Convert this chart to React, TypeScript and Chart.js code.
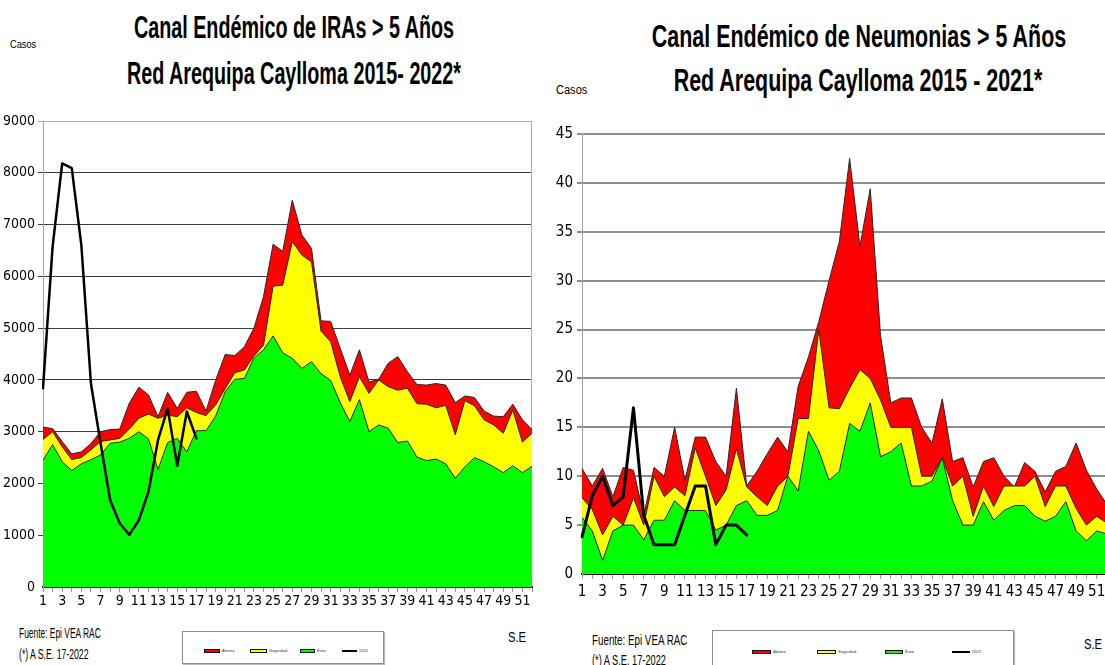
import React, { useEffect, useRef } from 'react';
import { Chart, registerables } from 'chart.js';

Chart.register(...registerables);

// ---------- data ----------
const weeks = ['1','2','3','4','5','6','7','8','9','10','11','12','13','14','15','16','17','18','19','20','21','22','23','24','25','26','27','28','29','30','31','32','33','34','35','36','37','38','39','40','41','42','43','44','45','46','47','48','49','50','51','52'];

const seriesNames = ['Alarma', 'Seguridad', 'Éxito', '2022'];

const irasAlarma = [3086, 3060, 2810, 2570, 2610, 2770, 3000, 3040, 3050, 3550, 3860, 3710, 3290, 3760, 3450, 3760, 3780, 3400, 3990, 4490, 4470, 4640, 5000, 5610, 6620, 6480, 7470, 6800, 6540, 5140, 5130, 4610, 4090, 4580, 3960, 4010, 4320, 4450, 4160, 3910, 3900, 3930, 3900, 3560, 3690, 3660, 3400, 3300, 3290, 3530, 3230, 3040];
const irasSeguridad = [2850, 3000, 2710, 2460, 2500, 2650, 2810, 2840, 2870, 3050, 3260, 3340, 3260, 3320, 3290, 3460, 3370, 3310, 3515, 3830, 4140, 4190, 4460, 4670, 5810, 5830, 6670, 6410, 6280, 4940, 4740, 4060, 3580, 4060, 3740, 4000, 3870, 3800, 3840, 3540, 3530, 3460, 3510, 2940, 3600, 3500, 3230, 3130, 2970, 3420, 2800, 2970];
const irasExito = [2450, 2750, 2420, 2250, 2380, 2460, 2550, 2775, 2800, 2870, 3000, 2860, 2270, 2790, 2870, 2610, 3020, 3020, 3300, 3770, 4010, 4030, 4420, 4580, 4850, 4525, 4416, 4223, 4351, 4120, 3990, 3560, 3196, 3620, 3000, 3130, 3067, 2790, 2820, 2508, 2443, 2470, 2380, 2100, 2320, 2500, 2420, 2320, 2210, 2340, 2210, 2330];
const iras2022 = [3840, 6570, 8180, 8090, 6600, 3930, 2780, 1680, 1230, 1010, 1290, 1840, 2840, 3450, 2340, 3390, 2870];

const neuAlarma = [10.8, 9.0, 10.8, 7.9, 10.9, 10.6, 6.0, 10.9, 10.0, 15.0, 9.6, 14.0, 14.0, 11.5, 10.0, 19.0, 9.0, 10.5, 12.3, 14.0, 12.5, 19.2, 22.2, 25.8, 30.0, 34.0, 42.5, 33.5, 39.4, 24.4, 17.5, 18.0, 18.0, 15.0, 13.4, 17.9, 11.5, 11.9, 8.9, 11.5, 11.9, 10.0, 8.9, 11.4, 10.5, 8.4, 10.5, 11.0, 13.4, 10.6, 8.7, 7.1];
const neuSeguridad = [7.8, 6.6, 4.0, 5.9, 5.0, 7.8, 5.0, 10.0, 7.9, 8.9, 8.0, 12.9, 10.0, 7.0, 8.6, 12.8, 8.9, 7.9, 7.0, 9.0, 10.0, 15.9, 15.9, 25.0, 17.0, 16.9, 19.0, 20.9, 20.0, 17.8, 15.0, 15.0, 15.0, 10.0, 10.0, 11.9, 9.0, 10.0, 5.9, 9.0, 6.9, 9.0, 9.0, 9.0, 10.0, 6.9, 9.0, 9.0, 6.7, 5.0, 5.9, 5.2];
const neuExito = [5.8, 4.4, 1.4, 4.4, 5.0, 5.0, 3.5, 5.5, 5.5, 7.5, 6.5, 6.5, 6.5, 4.5, 5.0, 7.0, 7.5, 6.0, 6.0, 6.5, 10.0, 8.5, 14.6, 12.6, 9.6, 10.5, 15.4, 14.6, 17.5, 12.0, 12.5, 13.4, 9.0, 9.0, 9.5, 11.9, 7.5, 5.0, 5.0, 7.4, 5.5, 6.5, 7.0, 7.0, 5.9, 5.4, 5.9, 7.4, 4.4, 3.4, 4.4, 4.1];
const neu2022 = [3.8, 8.0, 10.0, 7.0, 7.9, 17.0, 6.0, 3.0, 3.0, 3.0, 6.0, 9.0, 9.0, 3.0, 5.0, 5.0, 4.0];

const irasYMax = 9000;
const irasYStep = 1000;
const neuYMax = 45;
const neuYStep = 5;

// ---------- styles ----------
const RED = '#ff0000';
const YELLOW = '#ffff00';
const GREEN = '#00ff00';
const NARROW = "'Liberation Sans Narrow', 'DejaVu Sans Condensed', 'Liberation Sans', Arial, sans-serif";

const framePlugin = {
  id: 'frame',
  beforeDatasetsDraw(chart: any, _args: any, opts: any) {
    const { ctx, chartArea: a } = chart;
    ctx.save();
    ctx.strokeStyle = opts.color || '#aaa';
    ctx.lineWidth = opts.width || 1;
    ctx.beginPath();
    ctx.moveTo(a.left, a.top + 0.5);
    ctx.lineTo(a.right - 0.5, a.top + 0.5);
    ctx.lineTo(a.right - 0.5, a.bottom);
    ctx.stroke();
    ctx.restore();
  },
};

function buildConfig(p: {
  alarma: number[]; seguridad: number[]; exito: number[]; current: number[];
  yMax: number; yStep: number; yWidth: number; padTop: number; padRight: number;
  gridColor: (v: number) => string; gridWidth: number; axisColor: string;
  tickFont: number; yPad: number; xPad: number; lineWidth: number; frameColor: string;
}) {
  const area = (label: string, data: number[], color: string, order: number) => ({
    label, data, backgroundColor: color, borderColor: '#262626', borderWidth: 1,
    fill: 'origin', pointRadius: 0, tension: 0, order,
  });
  return {
    type: 'line',
    data: {
      labels: weeks,
      datasets: [
        { label: seriesNames[3], data: p.current, borderColor: '#000000', borderWidth: p.lineWidth,
          fill: false, pointRadius: 0, tension: 0, order: 0, borderJoinStyle: 'round', borderCapStyle: 'round' },
        area(seriesNames[2], p.exito, GREEN, 1),
        area(seriesNames[1], p.seguridad, YELLOW, 2),
        area(seriesNames[0], p.alarma, RED, 3),
      ],
    },
    options: {
      responsive: false,
      animation: false,
      events: [],
      layout: { padding: { top: p.padTop, right: p.padRight, left: 0, bottom: 0 } },
      plugins: { legend: { display: false }, tooltip: { enabled: false }, title: { display: false },
        frame: { color: p.frameColor, width: 1 } },
      scales: {
        x: {
          type: 'category', offset: false, z: 1,
          grid: { drawOnChartArea: false, drawTicks: true, tickLength: 5, color: '#9a9a9a' },
          border: { display: true, color: '#111', width: 2 },
          ticks: {
            autoSkip: false, maxRotation: 0, minRotation: 0, padding: p.xPad, color: '#000',
            font: { family: NARROW, size: p.tickFont },
            callback: (_v: any, i: number) => (i % 2 === 0 ? weeks[i] : ''),
          },
          afterFit: (s: any) => { s.height = 30; s.paddingLeft = 0; s.paddingRight = 0; },
        },
        y: {
          min: 0, max: p.yMax,
          grid: { color: (c: any) => p.gridColor(c.tick.value), lineWidth: p.gridWidth, tickLength: 5, drawTicks: true },
          border: { display: true, color: p.axisColor, width: 1 },
          ticks: { stepSize: p.yStep, padding: p.yPad, color: '#000', font: { family: NARROW, size: p.tickFont },
            callback: (v: any) => String(v) },
          afterFit: (s: any) => { s.width = p.yWidth; s.paddingTop = 0; s.paddingBottom = 0; },
        },
      },
    },
    plugins: [framePlugin],
  };
}

function ChartBox({ config, left, top, width, height }: any) {
  const ref = useRef<HTMLCanvasElement>(null);
  useEffect(() => {
    const chart = new Chart(ref.current as HTMLCanvasElement, config as any);
    return () => chart.destroy();
  }, []);
  return (
    <canvas ref={ref} width={width} height={height}
      style={{ position: 'absolute', left, top, width, height }} />
  );
}

function Txt({ x, y, size, sx = 1, bold = false, center = false, children }: any) {
  return (
    <div style={{
      position: 'absolute', left: x, top: y, fontFamily: "'Liberation Sans', Arial, sans-serif",
      fontSize: size, lineHeight: `${size}px`, fontWeight: bold ? 700 : 400, whiteSpace: 'nowrap',
      color: '#000', transformOrigin: center ? 'center top' : 'left top',
      transform: center ? `translateX(-50%) scaleX(${sx})` : `scaleX(${sx})`,
    }}>{children}</div>
  );
}

function Legend({ left, top, width, height, items }: any) {
  return (
    <div style={{ position: 'absolute', left, top, width, height, border: '1px solid #8c8c8c',
      boxShadow: '1px 1px 1px #bbb', background: '#fff', boxSizing: 'border-box' }}>
      {items.map((it: any, i: number) => (
        <div key={i} style={{ position: 'absolute', left: it.x - left, top: it.y - top - 3, display: 'flex', alignItems: 'center' }}>
          {it.color ? (
            <div style={{ width: it.w, height: 4, background: it.color, border: '1px solid #111', boxSizing: 'border-box' }} />
          ) : (
            <div style={{ width: it.w, height: 2, background: '#000' }} />
          )}
          <span style={{ fontFamily: "'Liberation Sans', Arial, sans-serif", fontSize: 4, lineHeight: '4px', marginLeft: 2, color: '#333' }}>{it.label}</span>
        </div>
      ))}
    </div>
  );
}

export default function App() {
  const irasConfig = buildConfig({
    alarma: irasAlarma, seguridad: irasSeguridad, exito: irasExito, current: iras2022,
    yMax: irasYMax, yStep: irasYStep, yWidth: 43, padTop: 16, padRight: 13,
    gridColor: (v) => (v === irasYMax ? '#a6a6a6' : (v === 0 ? 'rgba(0,0,0,0)' : '#3c3c3c')), gridWidth: 1,
    axisColor: '#a6a6a6', tickFont: 14, yPad: 3, xPad: 1, lineWidth: 2.5, frameColor: '#b0b0b0',
  });
  const neuConfig = buildConfig({
    alarma: neuAlarma, seguridad: neuSeguridad, exito: neuExito, current: neu2022,
    yMax: neuYMax, yStep: neuYStep, yWidth: 37, padTop: 14, padRight: 8,
    gridColor: (v) => (v === 0 ? 'rgba(0,0,0,0)' : '#8e8e8e'), gridWidth: 2,
    axisColor: '#a0a0a0', tickFont: 15, yPad: 4, xPad: 4, lineWidth: 3, frameColor: '#8e8e8e',
  });

  return (
    <div style={{ position: 'fixed', left: 0, top: 0, width: 1105, height: 665, overflow: 'hidden', background: '#fff' }}>
      <ChartBox config={irasConfig} left={0} top={105} width={545} height={512} />
      <ChartBox config={neuConfig} left={545} top={120} width={570} height={484} />

      <Txt x={293.5} y={11} size={32} sx={0.617} bold center>Canal Endémico de IRAs &gt; 5 Años</Txt>
      <Txt x={293.5} y={57} size={32} sx={0.617} bold center>Red Arequipa Caylloma 2015- 2022*</Txt>
      <Txt x={858.5} y={20} size={32} sx={0.67} bold center>Canal Endémico de Neumonias &gt; 5 Años</Txt>
      <Txt x={858} y={64} size={32} sx={0.67} bold center>Red Arequipa Caylloma 2015 - 2021*</Txt>

      <Txt x={10} y={39} size={11} sx={0.84}>Casos</Txt>
      <Txt x={556} y={84} size={12} sx={0.92}>Casos</Txt>

      <Txt x={19} y={626} size={14} sx={0.6}>Fuente: Epi VEA RAC</Txt>
      <Txt x={19} y={647} size={14} sx={0.62}>(*) A S.E. 17-2022</Txt>
      <Txt x={508} y={630} size={14} sx={0.8}>S.E</Txt>

      <Txt x={592} y={633} size={14} sx={0.7}>Fuente: Epi VEA RAC</Txt>
      <Txt x={592} y={653} size={14} sx={0.66}>(*) A S.E. 17-2022</Txt>
      <Txt x={1084} y={637} size={14} sx={0.8}>S.E</Txt>

      <Legend left={182} top={631} width={202} height={33} items={[
        { x: 203, y: 651, w: 16, color: RED, label: seriesNames[0] },
        { x: 249, y: 651, w: 17, color: YELLOW, label: seriesNames[1] },
        { x: 299, y: 651, w: 15, color: GREEN, label: seriesNames[2] },
        { x: 341, y: 651, w: 15, color: null, label: seriesNames[3] },
      ]} />
      <Legend left={712} top={630} width={302} height={40} items={[
        { x: 751, y: 652, w: 19, color: RED, label: seriesNames[0] },
        { x: 816, y: 652, w: 19, color: YELLOW, label: seriesNames[1] },
        { x: 884, y: 652, w: 18, color: GREEN, label: seriesNames[2] },
        { x: 951, y: 652, w: 18, color: null, label: seriesNames[3] },
      ]} />
    </div>
  );
}
